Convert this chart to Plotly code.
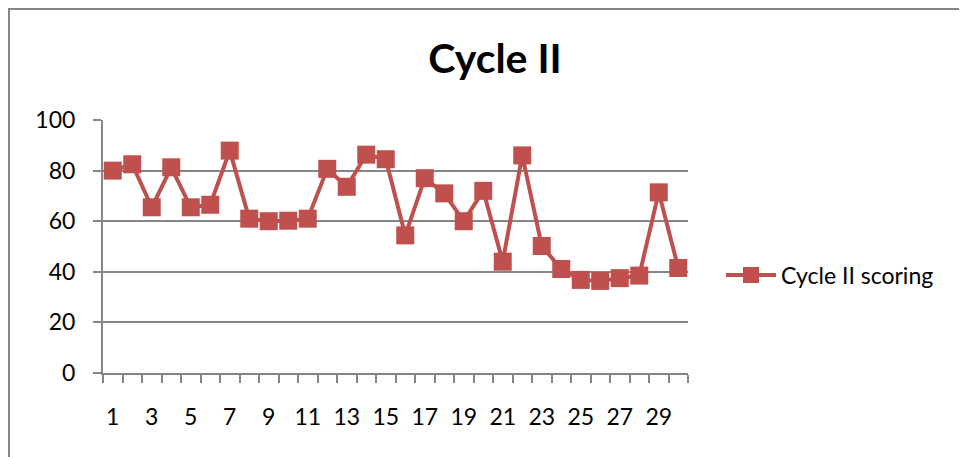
import plotly.graph_objects as go

categories = list(range(1, 31))
scores = [80, 82.5, 65.5, 81.3, 65.5, 66.5, 87.9, 61, 60, 60.2,
          61, 80.7, 73.6, 86.3, 84.5, 54.4, 77, 71, 60, 72,
          44, 86, 50.2, 41.1, 36.8, 36.4, 37.5, 38.5, 71.4, 41.5]
x_tick_labels = [str(i) for i in range(1, 31, 2)]
y_ticks = [0, 20, 40, 60, 80, 100]
series_name = "Cycle II scoring"
title_text = "Cycle II"

OFF = 8  # page body margin offset
W, H = 967, 457
L, T = 103 - OFF, 120 - OFF
pw, ph = 585, 253
R, B = W - L - pw, H - T - ph

FONT = "Lato, Open Sans, sans-serif"

fig = go.Figure()
fig.add_trace(go.Scatter(
    x=categories, y=scores, mode="lines+markers", name=series_name,
    line=dict(color="#C0504D", width=4),
    marker=dict(symbol="square", size=18, color="#C0504D"),
))

fig.update_layout(
    width=W, height=H,
    margin=dict(l=L, r=R, t=T, b=B),
    paper_bgcolor="white", plot_bgcolor="white",
    font=dict(family=FONT, color="black", size=23),
    title=dict(text="<b>" + title_text + "</b>", x=(495 - OFF) / W, xanchor="center",
               y=1 - (59 - OFF) / H, yanchor="middle",
               font=dict(size=41, family=FONT)),
    showlegend=True,
    legend=dict(x=(721 - 103) / pw, xanchor="left", y=(373 - 275) / ph, yanchor="middle",
                font=dict(size=23), itemwidth=50, bgcolor="rgba(0,0,0,0)"),
    xaxis=dict(range=[0.5, 30.5], tickvals=list(range(1, 31, 2)), ticktext=x_tick_labels,
               ticks="", showgrid=False, showline=True, linecolor="#868686", linewidth=2,
               zeroline=False, ticklabelstandoff=22,
               minor=dict(tick0=0.5, dtick=1, ticks="outside", ticklen=8,
                          tickcolor="#868686", tickwidth=2, showgrid=False)),
    yaxis=dict(range=[0, 100], tickvals=y_ticks, ticks="outside", ticklen=8,
               tickcolor="#868686", tickwidth=2, showgrid=True, gridcolor="#868686",
               gridwidth=2, showline=True, linecolor="#868686", linewidth=2,
               zeroline=False, ticklabelstandoff=13),
    shapes=[dict(type="rect", xref="paper", yref="paper",
                 x0=(OFF + 1 - 103) / pw, x1=(W + 20 - 103) / pw,
                 y0=(373 - (H + 20)) / ph, y1=(373 - 9) / ph,
                 line=dict(color="#868686", width=2), fillcolor="rgba(0,0,0,0)")],
)

fig.write_html("out.html")
